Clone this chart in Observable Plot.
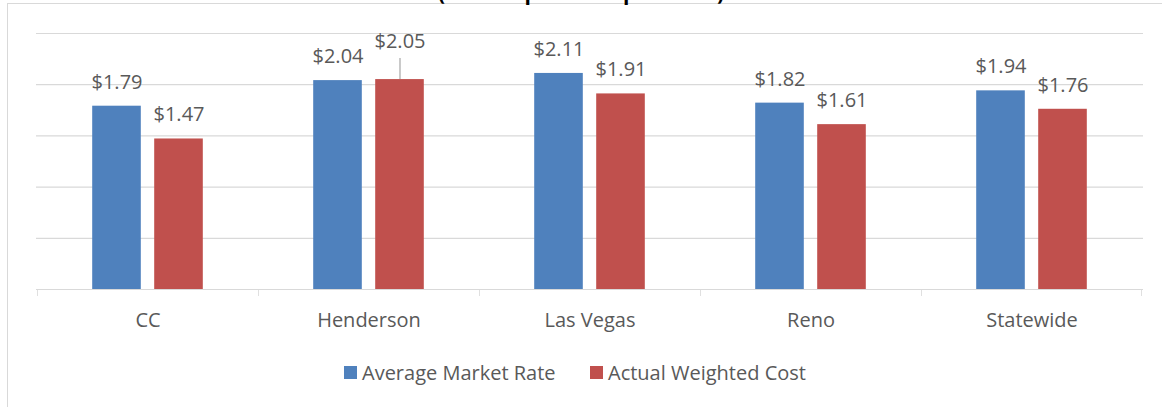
<!DOCTYPE html>
<html><head><meta charset="utf-8">
<script src="https://cdn.jsdelivr.net/npm/d3@7"></script>
<script src="https://cdn.jsdelivr.net/npm/@observablehq/plot@0.6"></script>
<style>
body{margin:0;background:#fff;font-family:"Open Sans",sans-serif;}
#wrap{position:relative;width:1162px;height:407px;overflow:hidden;background:#fff;}
#frame{position:absolute;left:7px;top:3px;width:1200px;height:500px;border-left:1px solid #d9d9d9;border-top:1px solid #d9d9d9;}
#title{position:absolute;left:0;width:1162px;text-align:center;top:-18px;font-weight:bold;font-size:21px;line-height:21px;color:#000;white-space:nowrap;}
#chart{position:absolute;left:0;top:0;}
.li{position:absolute;top:359px;height:26px;display:flex;align-items:center;font-size:20px;color:#595959;white-space:nowrap;}
.sw{width:13px;height:13px;margin-right:5px;}
</style></head>
<body>
<div id="wrap">
  <div id="frame"></div>
  <div id="chart"></div>
  <div id="title">(Dollars per Hour per Child)</div>
</div>
<script>
const categories = ["CC", "Henderson", "Las Vegas", "Reno", "Statewide"];
const series = ["Average Market Rate", "Actual Weighted Cost"];
const marketRate = [1.79, 2.04, 2.11, 1.82, 1.94];
const weightedCost = [1.47, 2.05, 1.91, 1.61, 1.76];
const yTicks = [0, 0.5, 1, 1.5, 2, 2.5];
const colors = ["#4f81bd", "#c0504d"];
const leaderCategories = ["Henderson"]; // labels lifted with a leader line (Actual Weighted Cost)

const rows = [];
categories.forEach((c, i) => {
  rows.push({category: c, series: series[0], value: marketRate[i]});
  rows.push({category: c, series: series[1], value: weightedCost[i]});
});
const blue = rows.filter(d => d.series === series[0]);
const red = rows.filter(d => d.series === series[1]);
const redNormal = red.filter(d => !leaderCategories.includes(d.category));
const redLifted = red.filter(d => leaderCategories.includes(d.category));

const W = 1162, H = 340, mL = 36, mR = 19, mT = 33, mB = 51;
const bw = (W - mL - mR) / categories.length;
const barW = 49, gap = 13;
const off = gap / 2 + barW / 2;
const fmt = d => "$" + d.value.toFixed(2);
const txt = {fill: "#595959", fontSize: 20};

const plot = Plot.plot({
  width: W, height: H,
  marginLeft: mL, marginRight: mR, marginTop: mT, marginBottom: mB,
  style: {fontFamily: "'Open Sans', sans-serif", fontSize: "20px", color: "#595959", background: "transparent"},
  x: {domain: categories, padding: 0, tickSize: 0, tickPadding: 23, label: null},
  y: {domain: [0, 2.5], axis: null},
  color: {domain: series, range: colors},
  marks: [
    Plot.ruleY(yTicks, {stroke: "#d9d9d9", strokeWidth: 1.2}),
    Plot.barY(categories, {x: d => d, y1: 0, y2: 0, insetBottom: -7, insetRight: bw - 1.2, fill: "#d9d9d9"}),
    Plot.barY(categories.slice(-1), {x: d => d, y1: 0, y2: 0, insetBottom: -7, insetLeft: bw - 1.2, fill: "#d9d9d9"}),
    Plot.barY(blue, {x: "category", y: "value", fill: "series", insetLeft: bw / 2 - gap / 2 - barW, insetRight: bw / 2 + gap / 2}),
    Plot.barY(red, {x: "category", y: "value", fill: "series", insetLeft: bw / 2 + gap / 2, insetRight: bw / 2 - gap / 2 - barW}),
    Plot.text(blue, {x: "category", y: "value", text: fmt, dx: -off, dy: -24, ...txt}),
    Plot.text(redNormal, {x: "category", y: "value", text: fmt, dx: off, dy: -24, ...txt}),
    Plot.text(redLifted, {x: "category", y: "value", text: fmt, dx: off, dy: -38, ...txt}),
    Plot.ruleX(redLifted, {x: "category", y1: "value", y2: "value", insetBottom: 21, dx: off, stroke: "#a6a6a6", strokeWidth: 1.2})
  ]
});
document.getElementById("chart").appendChild(plot);

const legendPos = [344, 590];
series.forEach((s, i) => {
  const el = document.createElement("div");
  el.className = "li";
  el.style.left = legendPos[i] + "px";
  el.innerHTML = `<div class="sw" style="background:${colors[i]}"></div><span>${s}</span>`;
  document.getElementById("wrap").appendChild(el);
});
</script>
</body></html>
